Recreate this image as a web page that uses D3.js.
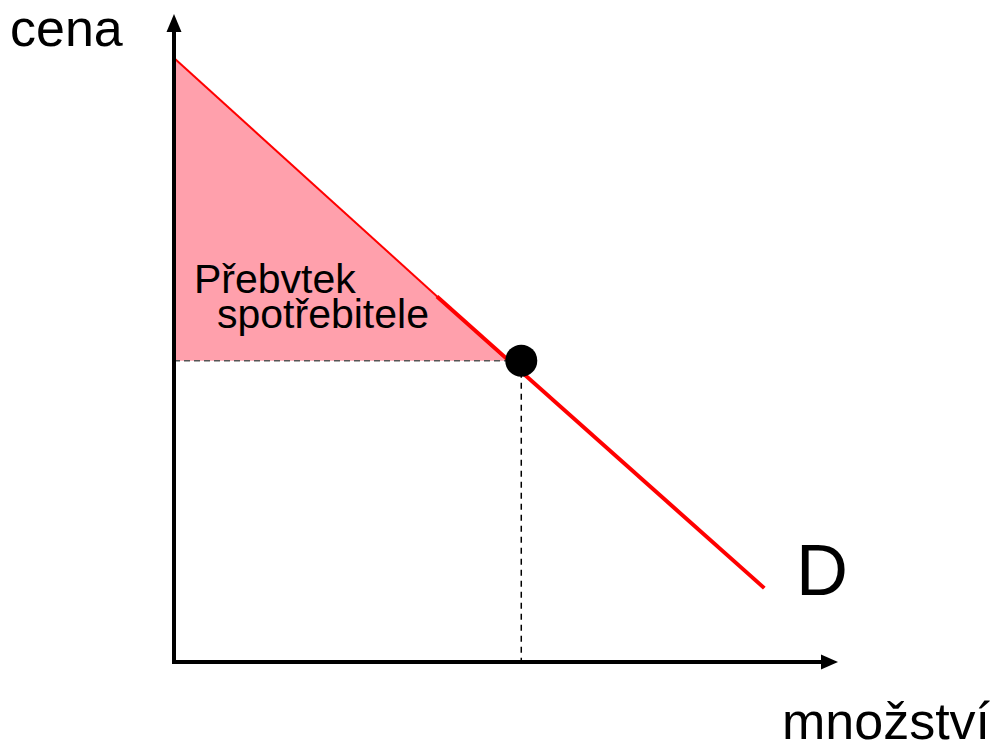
<!DOCTYPE html>
<html>
<head>
<meta charset="utf-8">
<script src="https://cdn.jsdelivr.net/npm/d3@7"></script>
<style>
  body { margin: 0; background: #fff; }
  text { font-family: "Liberation Sans", Arial, sans-serif; fill: #000; }
</style>
</head>
<body>
<div id="chart"></div>
<script>
// Values in chart units (quantity 0-100, price 0-100)
const demandUpperQ = [0, 50.3];        // thin edge of the surplus triangle
const demandUpperP = [93.2, 46.5];
const demandLowerQ = [39.6, 88.9];     // thick demand line D
const demandLowerP = [56.4, 11.4];
const equilibriumQ = 52.3;
const equilibriumP = 46.5;
const surplusQ = [0, 50.3, 0];
const surplusP = [93.2, 46.5, 46.5];
const axisLabels = ["cena", "množství"];
const curveLabel = "D";
const surplusLabel = ["Přebvtek", "spotřebitele"];

const W = 1002, H = 746;
const x0 = 174, y0 = 662;

const svg = d3.select("#chart")
    .append("svg")
    .attr("width", W)
    .attr("height", H);

const x = d3.scaleLinear().domain([0, 100]).range([x0, 838]);
const y = d3.scaleLinear().domain([0, 100]).range([y0, 14]);

// Consumer surplus triangle
svg.append("path")
    .datum(d3.zip(surplusQ, surplusP))
    .attr("d", d3.line().x(d => x(d[0])).y(d => y(d[1])).curve(d3.curveLinearClosed))
    .attr("fill", "#ffa0ac")
    .attr("stroke", "none");

svg.append("path")
    .datum(d3.zip(demandUpperQ, demandUpperP))
    .attr("d", d3.line().x(d => x(d[0])).y(d => y(d[1])))
    .attr("fill", "none")
    .attr("stroke", "#ff0000")
    .attr("stroke-width", 2);

svg.append("path")
    .datum(d3.zip(demandLowerQ, demandLowerP))
    .attr("d", d3.line().x(d => x(d[0])).y(d => y(d[1])))
    .attr("fill", "none")
    .attr("stroke", "#ff0000")
    .attr("stroke-width", 4);

// Dashed guides
svg.append("line")
    .attr("x1", x(0)).attr("x2", x(equilibriumQ))
    .attr("y1", y(equilibriumP)).attr("y2", y(equilibriumP))
    .attr("stroke", "#555")
    .attr("stroke-width", 1.5)
    .attr("stroke-dasharray", "6,4");

svg.append("line")
    .attr("x1", x(equilibriumQ)).attr("x2", x(equilibriumQ))
    .attr("y1", y(equilibriumP)).attr("y2", y(0))
    .attr("stroke", "#000")
    .attr("stroke-width", 1.5)
    .attr("stroke-dasharray", "6,5");

// Axes with arrow heads
svg.append("line")
    .attr("x1", x(0)).attr("x2", x(0))
    .attr("y1", y0 + 2).attr("y2", y(100) + 16)
    .attr("stroke", "#000")
    .attr("stroke-width", 4);

svg.append("path")
    .attr("d", `M${x(0)},${y(100)} L${x(0) - 7.5},${y(100) + 18} L${x(0) + 7.5},${y(100) + 18} Z`)
    .attr("fill", "#000");

svg.append("line")
    .attr("x1", x0 - 2).attr("x2", x(100) - 14)
    .attr("y1", y(0)).attr("y2", y(0))
    .attr("stroke", "#000")
    .attr("stroke-width", 4);

svg.append("path")
    .attr("d", `M${x(100)},${y(0)} L${x(100) - 17},${y(0) - 7.5} L${x(100) - 17},${y(0) + 7.5} Z`)
    .attr("fill", "#000");

// Equilibrium point
svg.append("circle")
    .attr("cx", x(equilibriumQ))
    .attr("cy", y(equilibriumP))
    .attr("r", 16)
    .attr("fill", "#000");

// Labels
svg.append("text")
    .attr("x", 10)
    .attr("y", 46)
    .attr("font-size", "52px")
    .text(axisLabels[0]);

svg.append("text")
    .attr("x", 782)
    .attr("y", 739)
    .attr("font-size", "52px")
    .text(axisLabels[1]);

svg.append("text")
    .attr("x", 796)
    .attr("y", 595)
    .attr("font-size", "72px")
    .text(curveLabel);

svg.append("text")
    .attr("x", 194)
    .attr("y", 293)
    .attr("font-size", "41px")
    .text(surplusLabel[0]);

svg.append("text")
    .attr("x", 217)
    .attr("y", 328)
    .attr("font-size", "41px")
    .text(surplusLabel[1]);
</script>
</body>
</html>
